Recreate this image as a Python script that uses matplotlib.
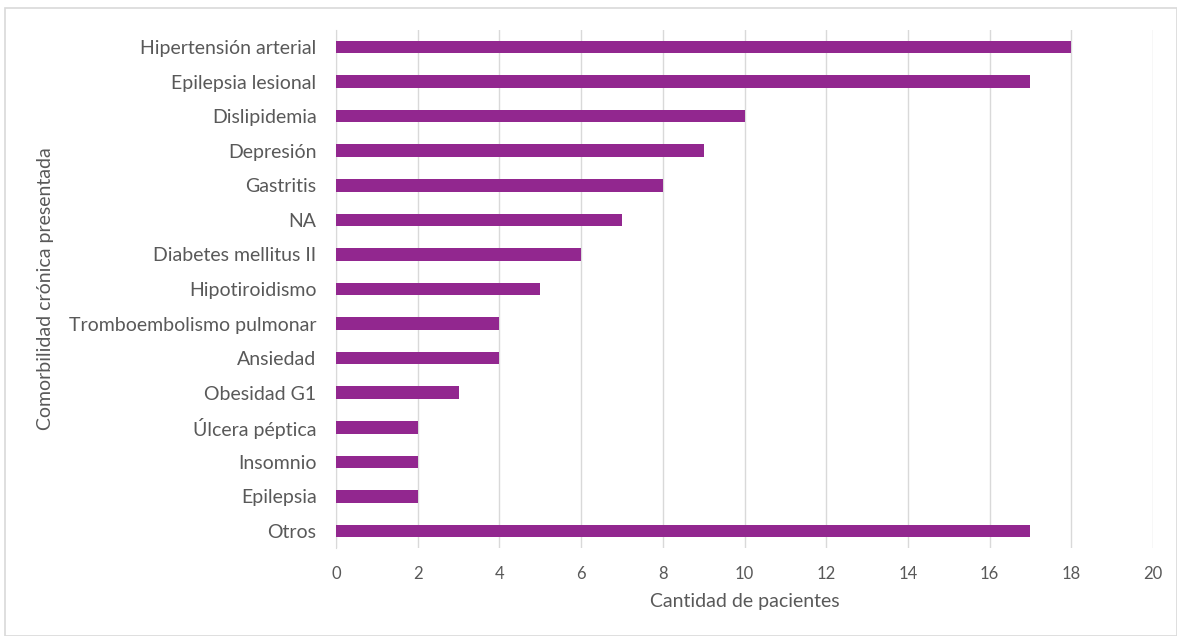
import matplotlib
matplotlib.use("Agg")
from matplotlib import pyplot as plt
from matplotlib.patches import Rectangle

# Data (top to bottom as shown)
categorias = ['Hipertensión arterial', 'Epilepsia lesional', 'Dislipidemia', 'Depresión',
              'Gastritis', 'NA', 'Diabetes mellitus II', 'Hipotiroidismo',
              'Tromboembolismo pulmonar', 'Ansiedad', 'Obesidad G1', 'Úlcera péptica',
              'Insomnio', 'Epilepsia', 'Otros']
pacientes = [18, 17, 10, 9, 8, 7, 6, 5, 4, 4, 3, 2, 2, 2, 17]
x_ticks = [0, 2, 4, 6, 8, 10, 12, 14, 16, 18, 20]

plt.rcParams['font.family'] = ['Lato', 'DejaVu Sans']
text_color = '#595959'

fig = plt.figure(figsize=(11.77, 6.36), dpi=100)
ax = fig.add_axes([0.2855, 0.1379, 0.9796 - 0.2855, 0.9533 - 0.1379])

# Chart border
fig.patches.append(Rectangle((5 / 1177, 0), 1 - 5 / 1177, 1 - 7 / 636 - 0.001,
                             transform=fig.transFigure, fill=False,
                             edgecolor='#d9d9d9', linewidth=1.2))

y_pos = list(range(len(categorias)))
ax.barh(y_pos, pacientes, height=0.36, color='#92278F', zorder=3)

ax.set_yticks(y_pos)
ax.set_yticklabels(categorias, fontsize=14, color=text_color)
ax.set_ylim(len(categorias) - 0.5, -0.5)

ax.set_xlim(0, 20)
ax.set_xticks(x_ticks)
ax.set_xticklabels([str(t) for t in x_ticks], fontsize=12, color=text_color)
ax.tick_params(axis='both', length=0)
ax.tick_params(axis='x', pad=13)
ax.tick_params(axis='y', pad=14)

ax.grid(axis='x', color='#d9d9d9', linewidth=1, zorder=0)
for side in ['top', 'right', 'bottom']:
    ax.spines[side].set_visible(False)
ax.spines['left'].set_color('#d9d9d9')

ax.set_xlabel('Cantidad de pacientes', fontsize=14, color=text_color, labelpad=8)
ax.set_ylabel('Comorbilidad crónica presentada', fontsize=14, color=text_color)
ax.yaxis.set_label_coords(-0.345, 0.5)

plt.savefig('out.png', dpi=100)
